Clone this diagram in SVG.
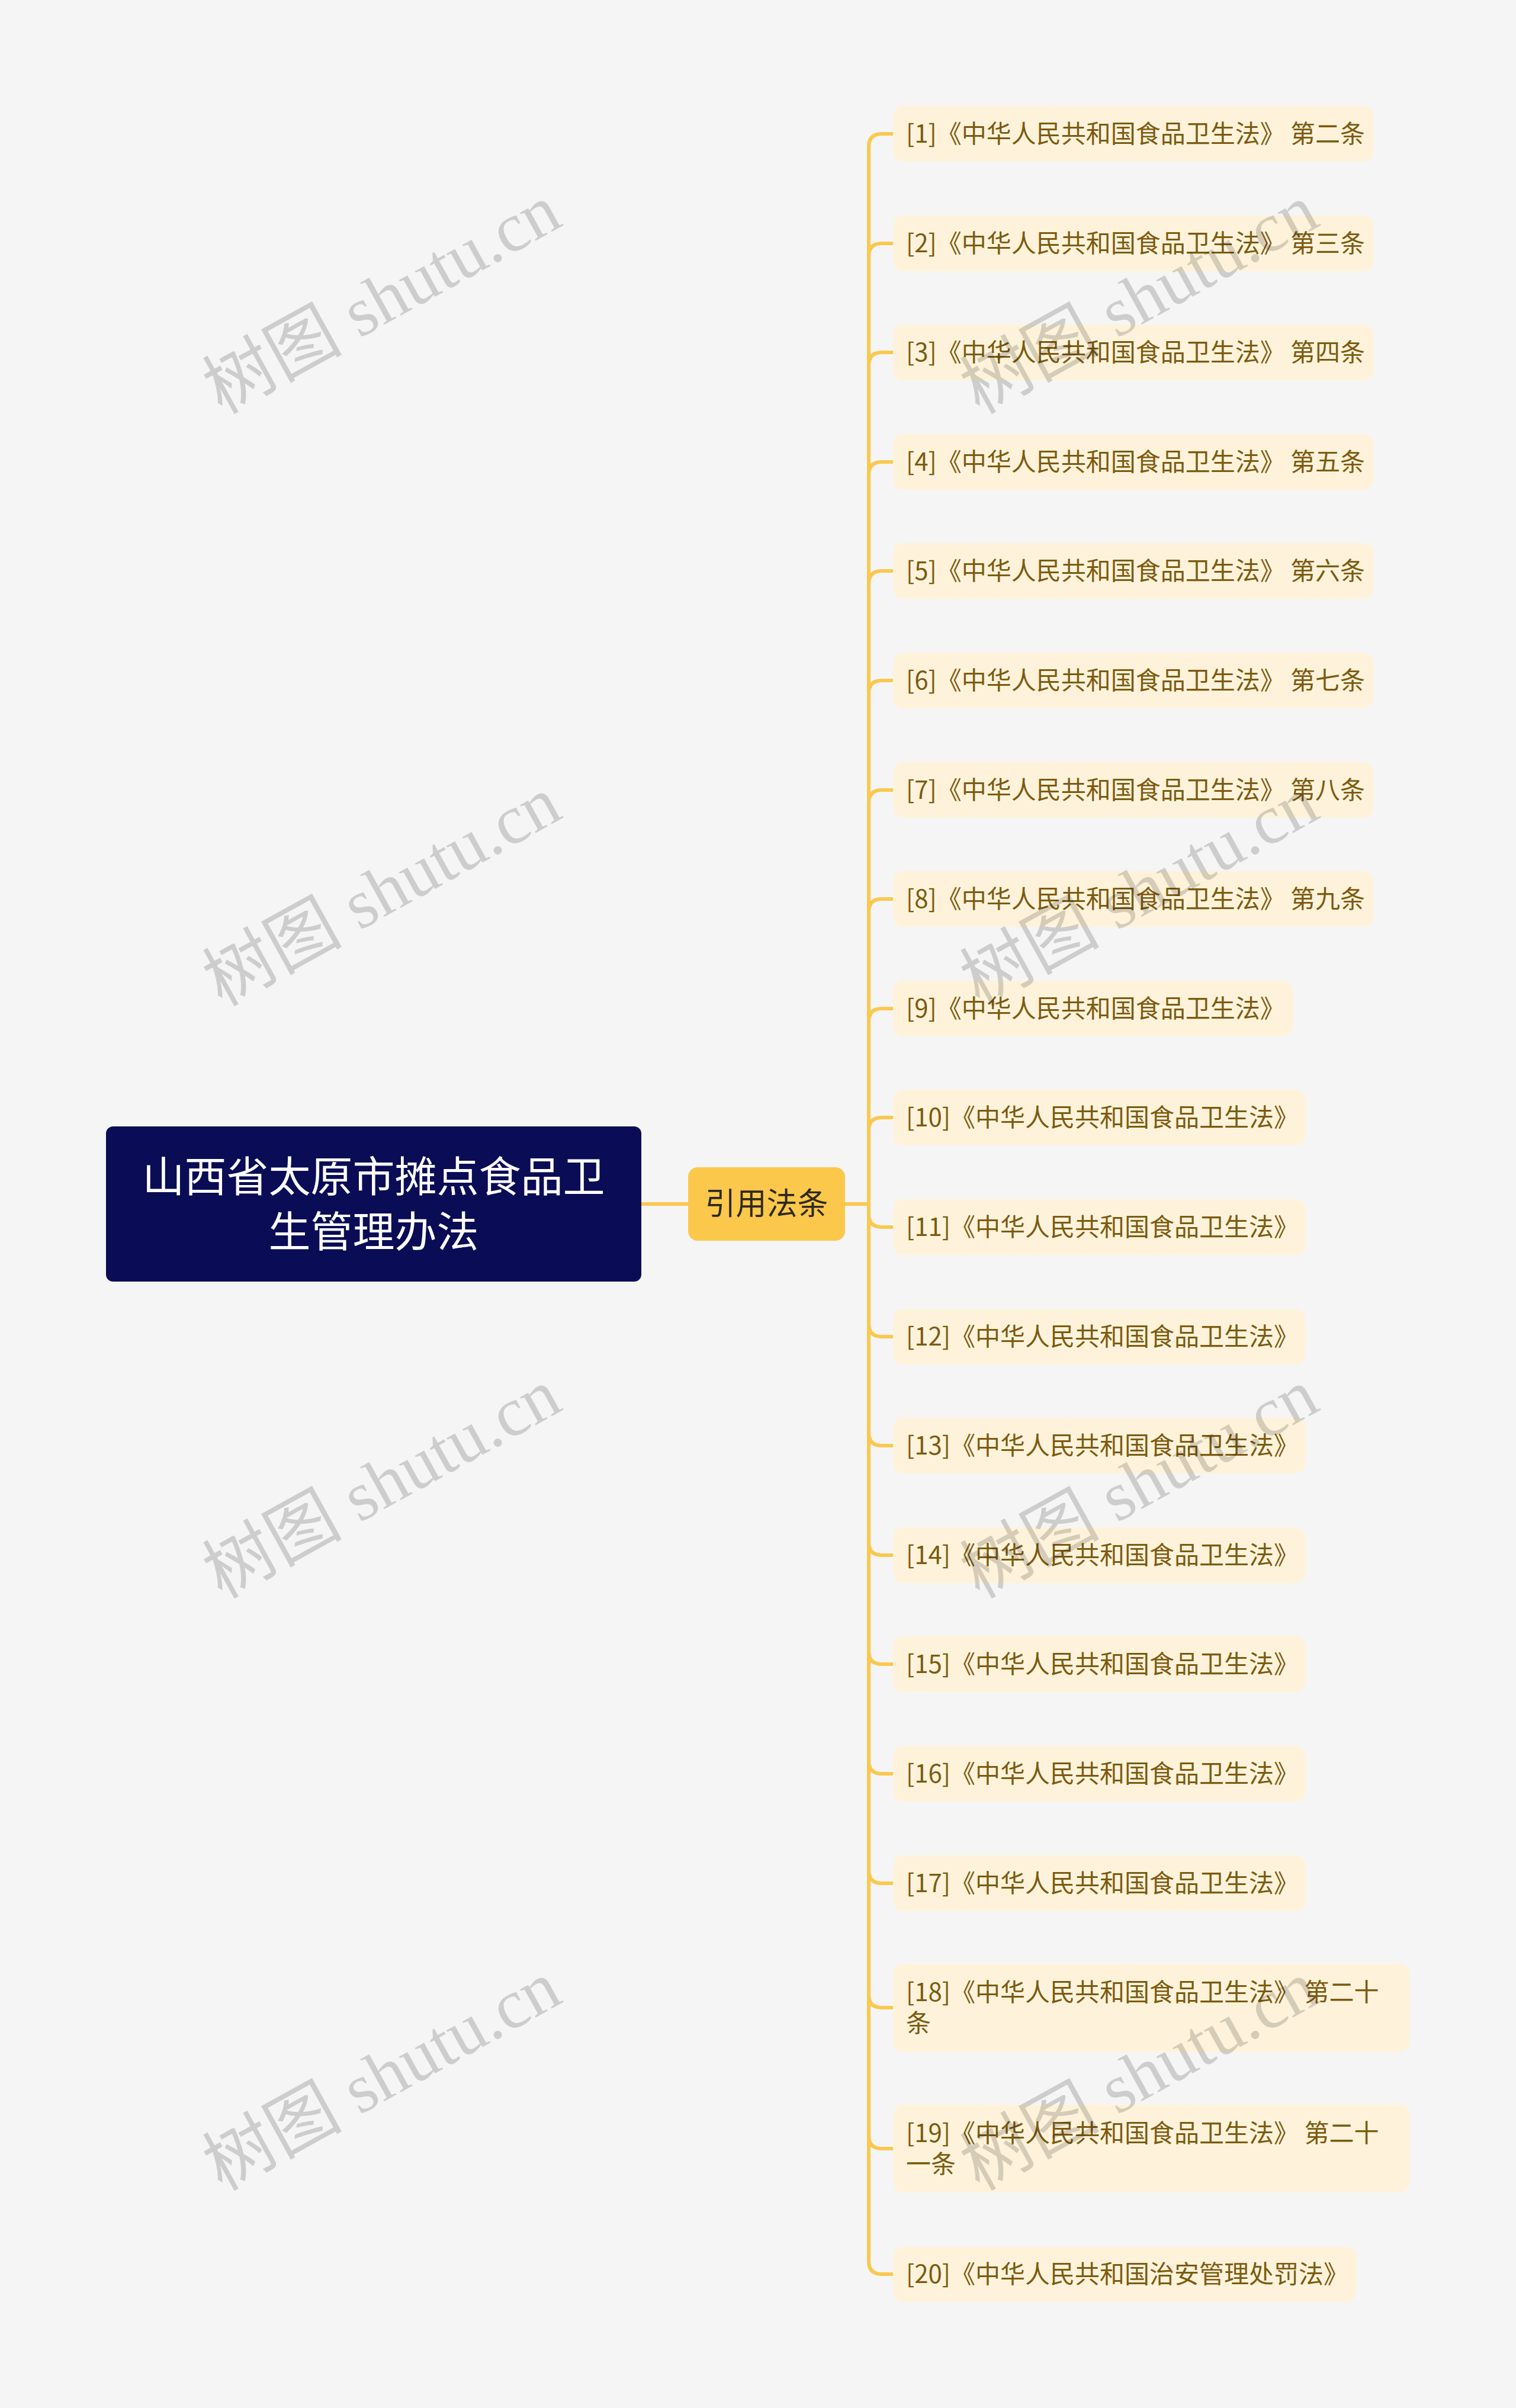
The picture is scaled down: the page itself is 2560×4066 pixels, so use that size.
<svg xmlns="http://www.w3.org/2000/svg" width="2560" height="4066" viewBox="0 0 2560 4066">
<style>
.bg{fill:#f5f5f5}
.link{fill:none;stroke:#fbc84e;stroke-width:6;stroke-linecap:round;stroke-linejoin:round}
.root{fill:#0a0c55}
.rootT{fill:#ffffff;font-family:"Noto Sans CJK SC","Noto Sans",sans-serif;font-size:71px;text-anchor:middle}
.mid{fill:#fcc84c}
.midT{fill:#2e2a1c;font-family:"Noto Sans CJK SC","Noto Sans",sans-serif;font-size:52px;text-anchor:middle}
.leaf{fill:#fef3da}
.leafT{fill:#7c5a10;font-family:"Noto Sans CJK SC","Noto Sans",sans-serif;font-size:42px}
.wm{fill:#000000;fill-opacity:0.16;font-family:"Liberation Serif","Noto Sans CJK SC",serif;font-size:118px;text-anchor:middle}
</style>
<rect class="bg" x="0" y="0" width="2560" height="4066"/>
<g id="connectors">
<path class="link" d="M1083 2033 H1162"/>
<path class="link" d="M1427 2033 H1467 V248 Q1467 226 1489 226 H1508"/>
<path class="link" d="M1427 2033 H1467 V433 Q1467 411 1489 411 H1508"/>
<path class="link" d="M1427 2033 H1467 V617 Q1467 595 1489 595 H1508"/>
<path class="link" d="M1427 2033 H1467 V802 Q1467 780 1489 780 H1508"/>
<path class="link" d="M1427 2033 H1467 V986 Q1467 964 1489 964 H1508"/>
<path class="link" d="M1427 2033 H1467 V1171 Q1467 1149 1489 1149 H1508"/>
<path class="link" d="M1427 2033 H1467 V1356 Q1467 1334 1489 1334 H1508"/>
<path class="link" d="M1427 2033 H1467 V1540 Q1467 1518 1489 1518 H1508"/>
<path class="link" d="M1427 2033 H1467 V1725 Q1467 1703 1489 1703 H1508"/>
<path class="link" d="M1427 2033 H1467 V1909 Q1467 1887 1489 1887 H1508"/>
<path class="link" d="M1427 2033 H1467 V2050 Q1467 2072 1489 2072 H1508"/>
<path class="link" d="M1427 2033 H1467 V2235 Q1467 2257 1489 2257 H1508"/>
<path class="link" d="M1427 2033 H1467 V2419 Q1467 2441 1489 2441 H1508"/>
<path class="link" d="M1427 2033 H1467 V2604 Q1467 2626 1489 2626 H1508"/>
<path class="link" d="M1427 2033 H1467 V2788 Q1467 2810 1489 2810 H1508"/>
<path class="link" d="M1427 2033 H1467 V2973 Q1467 2995 1489 2995 H1508"/>
<path class="link" d="M1427 2033 H1467 V3158 Q1467 3180 1489 3180 H1508"/>
<path class="link" d="M1427 2033 H1467 V3368 Q1467 3390 1489 3390 H1508"/>
<path class="link" d="M1427 2033 H1467 V3606 Q1467 3628 1489 3628 H1508"/>
<path class="link" d="M1427 2033 H1467 V3818 Q1467 3840 1489 3840 H1508"/>
</g>
<g id="root">
<rect class="root" x="179" y="1902" width="904" height="262" rx="12"/>
<text class="rootT" x="631"><tspan x="631" y="2012">山西省太原市摊点食品卫</tspan><tspan x="631" y="2105">生管理办法</tspan></text>
</g>
<g id="mid">
<rect class="mid" x="1162" y="1971" width="265" height="124" rx="16"/>
<text class="midT" x="1294.5" y="2051">引用法条</text>
</g>
<g id="n1"><rect class="leaf" x="1508" y="179" width="812" height="94" rx="18"/><text class="leafT" x="1530" y="241">[1]《中华人民共和国食品卫生法》 第二条</text></g>
<g id="n2"><rect class="leaf" x="1508" y="364" width="812" height="94" rx="18"/><text class="leafT" x="1530" y="426">[2]《中华人民共和国食品卫生法》 第三条</text></g>
<g id="n3"><rect class="leaf" x="1508" y="548" width="812" height="94" rx="18"/><text class="leafT" x="1530" y="610">[3]《中华人民共和国食品卫生法》 第四条</text></g>
<g id="n4"><rect class="leaf" x="1508" y="733" width="812" height="94" rx="18"/><text class="leafT" x="1530" y="795">[4]《中华人民共和国食品卫生法》 第五条</text></g>
<g id="n5"><rect class="leaf" x="1508" y="917" width="812" height="94" rx="18"/><text class="leafT" x="1530" y="979">[5]《中华人民共和国食品卫生法》 第六条</text></g>
<g id="n6"><rect class="leaf" x="1508" y="1102" width="812" height="94" rx="18"/><text class="leafT" x="1530" y="1164">[6]《中华人民共和国食品卫生法》 第七条</text></g>
<g id="n7"><rect class="leaf" x="1508" y="1287" width="812" height="94" rx="18"/><text class="leafT" x="1530" y="1349">[7]《中华人民共和国食品卫生法》 第八条</text></g>
<g id="n8"><rect class="leaf" x="1508" y="1471" width="812" height="94" rx="18"/><text class="leafT" x="1530" y="1533">[8]《中华人民共和国食品卫生法》 第九条</text></g>
<g id="n9"><rect class="leaf" x="1508" y="1656" width="676" height="94" rx="18"/><text class="leafT" x="1530" y="1718">[9]《中华人民共和国食品卫生法》</text></g>
<g id="n10"><rect class="leaf" x="1508" y="1840" width="697" height="94" rx="18"/><text class="leafT" x="1530" y="1902">[10]《中华人民共和国食品卫生法》</text></g>
<g id="n11"><rect class="leaf" x="1508" y="2025" width="697" height="94" rx="18"/><text class="leafT" x="1530" y="2087">[11]《中华人民共和国食品卫生法》</text></g>
<g id="n12"><rect class="leaf" x="1508" y="2210" width="697" height="94" rx="18"/><text class="leafT" x="1530" y="2272">[12]《中华人民共和国食品卫生法》</text></g>
<g id="n13"><rect class="leaf" x="1508" y="2394" width="697" height="94" rx="18"/><text class="leafT" x="1530" y="2456">[13]《中华人民共和国食品卫生法》</text></g>
<g id="n14"><rect class="leaf" x="1508" y="2579" width="697" height="94" rx="18"/><text class="leafT" x="1530" y="2641">[14]《中华人民共和国食品卫生法》</text></g>
<g id="n15"><rect class="leaf" x="1508" y="2763" width="697" height="94" rx="18"/><text class="leafT" x="1530" y="2825">[15]《中华人民共和国食品卫生法》</text></g>
<g id="n16"><rect class="leaf" x="1508" y="2948" width="697" height="94" rx="18"/><text class="leafT" x="1530" y="3010">[16]《中华人民共和国食品卫生法》</text></g>
<g id="n17"><rect class="leaf" x="1508" y="3133" width="697" height="94" rx="18"/><text class="leafT" x="1530" y="3195">[17]《中华人民共和国食品卫生法》</text></g>
<g id="n18"><rect class="leaf" x="1508" y="3316" width="873" height="149" rx="18"/><text class="leafT" x="1530"><tspan x="1530" y="3379">[18]《中华人民共和国食品卫生法》 第二十</tspan><tspan x="1530" y="3431">条</tspan></text></g>
<g id="n19"><rect class="leaf" x="1508" y="3554" width="873" height="148" rx="18"/><text class="leafT" x="1530"><tspan x="1530" y="3617">[19]《中华人民共和国食品卫生法》 第二十</tspan><tspan x="1530" y="3669">一条</tspan></text></g>
<g id="n20"><rect class="leaf" x="1508" y="3794" width="783" height="93" rx="18"/><text class="leafT" x="1530" y="3855">[20]《中华人民共和国治安管理处罚法》</text></g>
<g id="watermarks">
<text class="wm" transform="translate(664 540) rotate(-29)">树图 shutu.cn</text>
<text class="wm" transform="translate(1943 540) rotate(-29)">树图 shutu.cn</text>
<text class="wm" transform="translate(664 1540) rotate(-29)">树图 shutu.cn</text>
<text class="wm" transform="translate(1943 1540) rotate(-29)">树图 shutu.cn</text>
<text class="wm" transform="translate(664 2540) rotate(-29)">树图 shutu.cn</text>
<text class="wm" transform="translate(1943 2540) rotate(-29)">树图 shutu.cn</text>
<text class="wm" transform="translate(664 3540) rotate(-29)">树图 shutu.cn</text>
<text class="wm" transform="translate(1943 3540) rotate(-29)">树图 shutu.cn</text>
</g>
</svg>
